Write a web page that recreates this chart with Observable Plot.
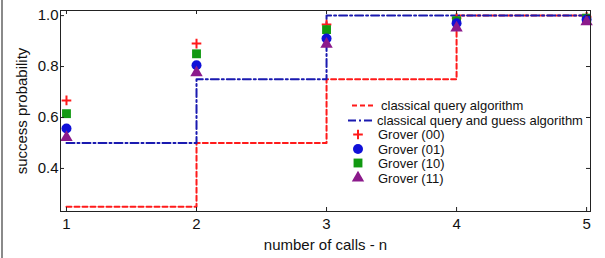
<!DOCTYPE html>
<html><head><meta charset="utf-8">
<script src="https://cdn.jsdelivr.net/npm/d3@7"></script>
<script src="https://cdn.jsdelivr.net/npm/@observablehq/plot@0.6"></script>
<style>
body{margin:0;background:#fff;}
#wrap{position:relative;width:605px;height:258px;font-family:"Liberation Sans",Arial,sans-serif;}
#border{position:absolute;left:1px;top:0;width:2px;height:258px;background:#8a8a8a;}
#legend{position:absolute;left:0;top:0;}
</style>
</head><body><div id="wrap"><div id="border"></div></div>
<script>
const calls = [1, 2, 3, 4, 5];
const classical = [0.25, 0.5, 0.75, 1.0, 1.0];
const queryGuess = [0.5, 0.75, 1.0, 1.0, 1.0];
const grover00 = [0.667, 0.89, 0.965, 0.99, 0.995];
const grover01 = [0.557, 0.805, 0.91, 0.97, 0.985];
const grover10 = [0.615, 0.85, 0.945, 0.98, 0.99];
const grover11 = [0.522, 0.776, 0.888, 0.952, 0.976];
const yTicks = [0.4, 0.6, 0.8, 1.0];
const xTicks = [1, 2, 3, 4, 5];
const legendLabels = ["classical query algorithm", "classical query and guess algorithm", "Grover (00)", "Grover (01)", "Grover (10)", "Grover (11)"];

const RED = "#ff1a1a", BLUE = "#1a1ab0", DOTBLUE = "#1010d8", GREEN = "#119911", PURPLE = "#8b1a8b";
const W = 605, H = 258, mL = 60, mR = 15, mT = 10, mB = 47;
const pw = W - mL - mR, ph = H - mT - mB;
const PLUS_R = 3.2, TRI_R = 4.6;

const rows = calls.map((n, i) => ({n, classical: classical[i], guess: queryGuess[i],
  g00: grover00[i], g01: grover01[i], g10: grover10[i], g11: grover11[i]}));

const chart = Plot.plot({
  width: W, height: H, marginLeft: mL, marginRight: mR, marginTop: mT, marginBottom: mB,
  x: {domain: [0.954, 5.03]},
  y: {domain: [0.231, 1.02]},
  style: {fontFamily: '"Liberation Sans", Arial, sans-serif', fontSize: "15px", background: "white", color: "#111"},
  marks: [
    Plot.line(rows, {x: "n", y: "classical", curve: "step-after", stroke: RED, strokeWidth: 2, strokeDasharray: "5,3"}),
    Plot.line(rows, {x: "n", y: "guess", curve: "step-after", stroke: BLUE, strokeWidth: 2, strokeDasharray: "8,3,2,3"}),
    Plot.dot(rows, {x: "n", y: "g00", symbol: "plus", r: PLUS_R, stroke: RED, strokeWidth: 2}),
    Plot.dot(rows, {x: "n", y: "g10", symbol: "square", r: 5, fill: GREEN, stroke: null}),
    Plot.dot(rows, {x: "n", y: "g01", symbol: "circle", r: 5, fill: DOTBLUE, stroke: null}),
    Plot.dot(rows, {x: "n", y: "g11", symbol: "triangle", r: TRI_R, fill: PURPLE, stroke: null}),
    Plot.frame({stroke: "#222", strokeWidth: 1}),
    Plot.tickY(yTicks, {y: d => d, insetRight: pw - 4, stroke: "#222"}),
    Plot.tickY(yTicks, {y: d => d, insetLeft: pw - 4, stroke: "#222"}),
    Plot.tickX(xTicks, {x: d => d, insetTop: ph - 4, stroke: "#222"}),
    Plot.tickX(xTicks, {x: d => d, insetBottom: ph - 4, stroke: "#222"}),
    Plot.axisY(yTicks, {tickSize: 0, tickPadding: 2, tickFormat: d3.format(".1f"), fontSize: 15,
      label: "success probability", labelAnchor: "center", labelOffset: 44, labelArrow: "none"}),
    Plot.axisX(xTicks, {tickSize: 0, tickPadding: 7, tickFormat: d3.format("d"), fontSize: 15,
      label: "number of calls - n", labelAnchor: "center", labelOffset: 38, labelArrow: "none"})
  ]
});
document.getElementById("wrap").appendChild(chart);

// Legend overlay
const ns = "http://www.w3.org/2000/svg";
const lg = document.createElementNS(ns, "svg");
lg.setAttribute("id", "legend");
lg.setAttribute("width", W); lg.setAttribute("height", H);
lg.setAttribute("font-family", '"Liberation Sans", Arial, sans-serif');
lg.setAttribute("font-size", "13");
const rowY = [105.5, 120.5, 134.5, 149, 163, 178];
const textX = [381, 377, 378, 378, 378, 378];
function el(tag, attrs) { const e = document.createElementNS(ns, tag); for (const k in attrs) e.setAttribute(k, attrs[k]); lg.appendChild(e); return e; }
el("line", {x1: 352, x2: 376, y1: rowY[0], y2: rowY[0], stroke: RED, "stroke-width": 2, "stroke-dasharray": "5,3"});
el("line", {x1: 348, x2: 373, y1: rowY[1], y2: rowY[1], stroke: BLUE, "stroke-width": 2, "stroke-dasharray": "8,3,2,3"});
const mx = 358;
el("path", {d: d3.symbol(d3.symbolPlus, Math.PI * PLUS_R * PLUS_R)(), transform: `translate(${mx},${rowY[2]})`, stroke: RED, "stroke-width": 2, fill: "none"});
el("path", {d: d3.symbol(d3.symbolCircle, Math.PI * 25)(), transform: `translate(${mx},${rowY[3]})`, fill: DOTBLUE});
el("path", {d: d3.symbol(d3.symbolSquare, Math.PI * 25)(), transform: `translate(${mx},${rowY[4]})`, fill: GREEN});
el("path", {d: d3.symbol(d3.symbolTriangle, Math.PI * TRI_R * TRI_R)(), transform: `translate(${mx},${rowY[5]})`, fill: PURPLE});
legendLabels.forEach((t, i) => {
  const e = el("text", {x: textX[i], y: rowY[i], dy: "0.35em", fill: "#111"});
  e.textContent = t;
});
document.getElementById("wrap").appendChild(lg);
</script>
</body></html>
